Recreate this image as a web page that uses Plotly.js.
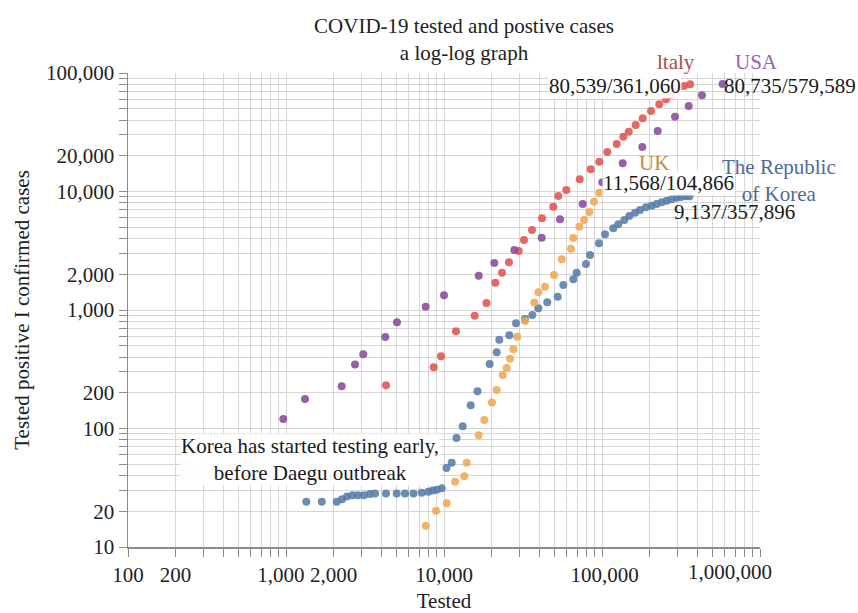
<!DOCTYPE html>
<html>
<head>
<meta charset="utf-8">
<script src="https://cdn.plot.ly/plotly-3.0.1.min.js"></script>
<style>html,body{margin:0;padding:0;background:#fff}#chart{width:858px;height:613px}</style>
</head>
<body>
<div id="chart"></div>
<script>
// ---- data (tested, confirmed) ----
var usaTested = [961, 1319, 2251, 2733, 3084, 4251, 5040, 7659, 10000, 16580, 20820, 27860, 41530, 54230, 75470, 100440, 135200, 179900, 225100, 289700, 353800, 429500, 579589];
var usaCases  = [120, 177, 227, 346, 423, 592, 787, 1066, 1331, 1948, 2493, 3208, 4075, 5826, 7843, 11960, 17300, 23740, 32390, 42780, 52660, 64820, 80735];

var italyTested = [4295, 8605, 9572, 11910, 15640, 18580, 21120, 23280, 25780, 29700, 32080, 36060, 41720, 49180, 52890, 59440, 72260, 84810, 96140, 108000, 123900, 136400, 147600, 163400, 181000, 204200, 230500, 254200, 272100, 301400, 330400, 361060];
var italyCases  = [232, 329, 407, 661, 895, 1146, 1699, 2065, 2526, 3147, 3897, 4732, 5940, 7442, 9162, 10300, 12680, 15390, 17840, 21540, 25160, 29000, 31960, 36400, 41470, 47780, 54440, 60000, 65200, 72850, 77670, 80539];

var ukTested = [7659, 8901, 10400, 11740, 13440, 13920, 16580, 17990, 20120, 21550, 23520, 24940, 26160, 27450, 29100, 32550, 37280, 39520, 43580, 49680, 55580, 63650, 65820, 71830, 76920, 83090, 89010, 96140];
var ukCases  = [15.1, 20.2, 23.4, 35.6, 39.5, 51.5, 87.6, 118, 166, 211, 283, 324, 388, 466, 595, 808, 1157, 1410, 1573, 1974, 2678, 3291, 4051, 5047, 5747, 6714, 8201, 9770];

var koreaTested = [1344, 1685, 2094, 2262, 2433, 2636, 2856, 3116, 3401, 3659, 4295, 5018, 5664, 6412, 7226, 7953, 8456, 8991, 9670, 10370, 11180, 12000, 13130, 14760, 16290, 19460, 21550, 22390, 25900, 28560, 32550, 36220, 39520, 45050, 52430, 56890, 65820, 69180, 79180, 83960, 95720, 104500, 117900, 126800, 138400, 148800, 161800, 174000, 189800, 206400, 221900, 238700, 256800, 276100, 297000, 316200, 338600, 357896];
var koreaCases  = [24.1, 24.1, 24.1, 25.3, 26.7, 27.3, 27.3, 27.3, 28.0, 28.3, 28.3, 28.3, 28.3, 28.3, 28.7, 29.3, 30.0, 30.4, 31.3, 46.4, 51.5, 83.1, 104.6, 157, 206, 350, 440, 562, 612, 772, 840, 908, 1033, 1161, 1295, 1626, 1816, 2065, 2445, 2912, 3655, 4354, 4892, 5286, 5747, 6212, 6624, 6982, 7356, 7589, 7843, 8108, 8364, 8594, 8866, 9000, 9100, 9137];

// labelled tick values
var xLabelled = [100, 200, 1000, 2000, 10000, 100000, 1000000];
var xLabelText = ['100', '200', '1,000\u00a0\u00a0', '2,000', '10,000', '\u00a0100,000', '1,000,000'];
var yLabelled = [10, 20, 100, 200, 1000, 2000, 10000, 20000, 100000];
var yLabelText = ['10', '20', '100', '200', '1,000', '2,000', '10,000', '20,000', '100,000'];

var seriesNames = ['USA', 'ltaly', 'UK', 'The Republic of Korea'];
var seriesColors = ['#8a4a9e', '#e0544f', '#f0a752', '#567da8'];

// ---- build grid ticks (every 1..9 multiple) ----
function gridTicks(lo, hi, labelled, labelText) {
  var vals = [], text = [];
  for (var d = lo; d <= hi; d *= 10) {
    for (var m = 1; m <= 9; m++) {
      var v = d * m;
      if (v > hi) break;
      vals.push(v);
      var i = labelled.indexOf(v);
      text.push(i >= 0 ? labelText[i] : '');
    }
  }
  return {vals: vals, text: text};
}
var xt = gridTicks(100, 1000000, xLabelled, xLabelText);
// the last x label is drawn shifted left as in the reference
xt.text[xt.text.length - 1] = '';
var yt = gridTicks(10, 100000, yLabelled, yLabelText);

var FONT = '"Liberation Serif", "Times New Roman", Times, serif';

function mk(x, y, i) {
  return {
    type: 'scatter', mode: 'markers', x: x, y: y, name: seriesNames[i],
    marker: {color: seriesColors[i], size: 8, opacity: 0.88, line: {width: 0}},
    hoverinfo: 'x+y+name'
  };
}
var data = [
  mk(koreaTested, koreaCases, 3),
  mk(ukTested, ukCases, 2),
  mk(italyTested, italyCases, 1),
  mk(usaTested, usaCases, 0)
];

var axisCommon = {
  type: 'log', showgrid: true, gridcolor: '#d6d6d6', gridwidth: 1,
  showline: true, linecolor: '#8c8c8c', linewidth: 1.5,
  ticks: 'outside', ticklen: 8, tickcolor: '#8c8c8c', tickwidth: 1,
  tickmode: 'array', zeroline: false, tickangle: 0,
  tickfont: {family: FONT, size: 21, color: '#222'}
};

var xaxis = Object.assign({}, axisCommon, {
  range: [2, 6], tickvals: xt.vals, ticktext: xt.text,
  title: {text: 'Tested', font: {family: FONT, size: 21, color: '#222'}, standoff: 16}
});
var yaxis = Object.assign({}, axisCommon, {
  range: [1, 5], tickvals: yt.vals, ticktext: yt.text,
  title: {text: 'Tested positive I confirmed cases', font: {family: FONT, size: 21, color: '#222'}, standoff: 10}
});

function ann(text, px, py, color, extra) {
  var a = {
    text: text, xref: 'paper', yref: 'paper',
    x: (px - 128) / 632, y: (547 - py) / 474,
    xanchor: 'center', yanchor: 'middle', showarrow: false,
    font: {family: FONT, size: 21, color: color}
  };
  return Object.assign(a, extra || {});
}
var WB = {bgcolor: 'rgba(255,255,255,0.92)', borderpad: 0};

var annotations = [
  ann('ltaly', 676, 62, '#b0494a'),
  ann('80,539/361,060', 615, 86, '#1a1a1a', WB),
  ann('USA', 756, 62, '#9a5fb5'),
  ann('80,735/579,589', 790, 86, '#1a1a1a'),
  ann('UK', 654, 163, '#b98f3c'),
  ann('11,568/104,866', 668, 183, '#1a1a1a', WB),
  ann('The Republic<br>of Korea', 779, 180.5, '#4d6b98'),
  ann('9,137/357,896', 734.5, 212, '#1a1a1a'),
  ann('Korea has started testing early,<br>before Daegu outbreak', 310, 459, '#1a1a1a', WB),
  ann(xLabelText[xLabelText.length - 1], 730, 572, '#222')
];

var layout = {
  width: 858, height: 613,
  margin: {l: 128, r: 98, t: 73, b: 66},
  paper_bgcolor: '#fff', plot_bgcolor: '#fff',
  showlegend: false,
  font: {family: FONT, size: 21, color: '#222'},
  title: {
    text: 'COVID-19 tested and postive cases<br>a log-log graph',
    x: 464 / 858, xanchor: 'center', xref: 'container',
    y: 1 - 33 / 613, yanchor: 'middle', yref: 'container',
    font: {family: FONT, size: 21, color: '#222'}
  },
  xaxis: xaxis, yaxis: yaxis,
  annotations: annotations
};

Plotly.newPlot('chart', data, layout, {displayModeBar: false, staticPlot: true});
</script>
</body>
</html>
